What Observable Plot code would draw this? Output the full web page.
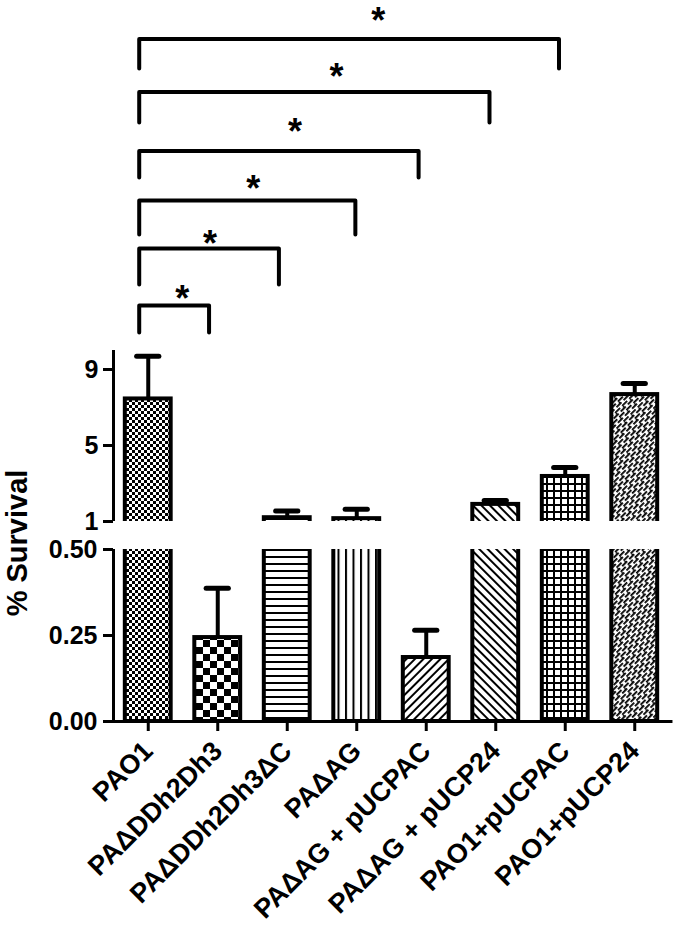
<!DOCTYPE html>
<html><head><meta charset="utf-8">
<script src="https://cdn.jsdelivr.net/npm/d3@7"></script>
<script src="https://cdn.jsdelivr.net/npm/@observablehq/plot@0.6"></script>
<style>
body{margin:0;background:#fff;font-family:"Liberation Sans",Arial,sans-serif;}
#chart{position:relative;width:675px;height:938px;overflow:hidden;}
#top,#bottom{display:block;line-height:0;}
#ylabel{position:absolute;left:-83px;top:526px;width:200px;text-align:center;font-size:29px;font-weight:bold;line-height:34px;transform:rotate(-90deg);white-space:nowrap;}
</style></head>
<body>
<div id="chart"><div id="top"></div><div id="bottom"></div><div id="ylabel">% Survival</div></div>
<script>
// ---- data ----
const categories = ["PAO1","PAΔDDh2Dh3","PAΔDDh2Dh3ΔC","PAΔAG","PAΔAG + pUCPAC","PAΔAG + pUCP24","PAO1+pUCPAC","PAO1+pUCP24"];
const means   = [7.45, 0.244, 1.2, 1.15, 0.186, 1.9, 3.37, 7.68];
const errTops = [9.7, 0.387, 1.55, 1.65, 0.265, 2.1, 3.84, 8.26];
const patternIds = ["pCheckFine","pCheckCoarse","pHLines","pVLines","pDiagUp","pDiagDown","pGrid","pHatch"];
const lowerTicks = [0, 0.25, 0.5];
const upperTicks = [1, 5, 9];
// significance brackets (index units on x, survival units on y of upper segment)
const bracketStart = -0.13;
const bracketEnds    = [0.875, 1.88, 2.98, 3.89, 4.91, 5.91];
const bracketTops    = [12.37, 15.37, 17.9, 20.5, 23.6, 26.4];
const bracketBottoms = [10.95, 13.47, 16.1, 19.1, 22.0, 24.84];
const starX = [0.49, 0.89, 1.51, 2.11, 2.71, 3.31];
const starY = [13.16, 16.05, 18.95, 21.95, 24.84, 27.8];

const bars = categories.map((c, i) => ({i, c, mean: means[i], err: errTops[i], pat: `url(#${patternIds[i]})`}));
const bracketPts = bracketEnds.flatMap((e, k) => [
  {k, x: bracketStart, y: bracketBottoms[k]},
  {k, x: bracketStart, y: bracketTops[k]},
  {k, x: e, y: bracketTops[k]},
  {k, x: e, y: bracketBottoms[k]}
]);
const stars = starX.map((x, k) => ({x, y: starY[k]}));

const FONT = "'Liberation Sans', Arial, sans-serif";
const HALF = 0.33, CAP = 0.16;

function defs() {
  return `
  <pattern id="pCheckFine" patternUnits="userSpaceOnUse" width="6" height="6">
    <rect width="6" height="6" fill="#fff"/><rect width="3" height="3" fill="#000"/><rect x="3" y="3" width="3" height="3" fill="#000"/>
  </pattern>
  <pattern id="pCheckCoarse" patternUnits="userSpaceOnUse" width="14" height="14">
    <rect width="14" height="14" fill="#fff"/><rect width="7" height="7" fill="#000"/><rect x="7" y="7" width="7" height="7" fill="#000"/>
  </pattern>
  <pattern id="pHLines" patternUnits="userSpaceOnUse" width="8" height="7">
    <rect width="8" height="7" fill="#fff"/><rect y="0" width="8" height="2" fill="#000"/>
  </pattern>
  <pattern id="pVLines" patternUnits="userSpaceOnUse" width="7.5" height="8">
    <rect width="7.5" height="8" fill="#fff"/><rect x="0" width="2" height="8" fill="#000"/>
  </pattern>
  <pattern id="pDiagUp" patternUnits="userSpaceOnUse" width="6" height="6" patternTransform="rotate(45)">
    <rect width="6" height="6" fill="#fff"/><rect width="2" height="6" fill="#000"/>
  </pattern>
  <pattern id="pDiagDown" patternUnits="userSpaceOnUse" width="6" height="6" patternTransform="rotate(-45)">
    <rect width="6" height="6" fill="#fff"/><rect width="2" height="6" fill="#000"/>
  </pattern>
  <pattern id="pGrid" patternUnits="userSpaceOnUse" width="7" height="7">
    <rect width="7" height="7" fill="#fff"/><rect width="2" height="7" fill="#000"/><rect width="7" height="2" fill="#000"/>
  </pattern>
  <pattern id="pHatch" patternUnits="userSpaceOnUse" width="6" height="10" patternTransform="rotate(45)">
    <rect width="6" height="10" fill="#fff"/>
    <rect x="0" y="0" width="1.8" height="7" fill="#000"/>
    <rect x="3" y="5" width="1.8" height="5" fill="#000"/><rect x="3" y="0" width="1.8" height="2" fill="#000"/>
    <rect x="1.8" y="6" width="1.2" height="1.4" fill="#000"/>
  </pattern>`;
}
function addDefs(svg) {
  const d = document.createElementNS("http://www.w3.org/2000/svg", "defs");
  d.innerHTML = defs();
  svg.insertBefore(d, svg.firstChild);
  return svg;
}

const xOpt = {domain: [-0.5, 7.5], axis: null};
const common = {width: 675, marginLeft: 113, marginRight: 6, color: {type: "identity"},
  style: {fontFamily: FONT, background: "transparent", overflow: "visible"}};

// ---- upper segment (1 .. 10) plus brackets ----
const upper = Plot.plot({
  ...common,
  height: 521, marginTop: 0, marginBottom: 0,
  x: xOpt,
  y: {domain: [1, 1 + 521/19]},
  marks: [
    Plot.rect(bars.filter(d => d.mean >= 1), {x1: d => d.i - HALF, x2: d => d.i + HALF, y1: 0, y2: "mean", fill: "pat", stroke: "#000", strokeWidth: 4, clip: true}),
    Plot.ruleX(bars.filter(d => d.mean >= 1), {x: "i", y1: "mean", y2: "err", stroke: "#000", strokeWidth: 4}),
    Plot.ruleY(bars.filter(d => d.mean >= 1), {x1: d => d.i - CAP, x2: d => d.i + CAP, y: "err", stroke: "#000", strokeWidth: 5, strokeLinecap: "round"}),
    Plot.ruleX([-0.5], {y1: 1, y2: 10, stroke: "#000", strokeWidth: 3}),
    Plot.axisY({ticks: upperTicks, tickSize: 10, tickPadding: 5, tickFormat: d3.format("d"), fontSize: 25, fontWeight: "bold", strokeWidth: 3, label: null}),
    Plot.line(bracketPts, {x: "x", y: "y", z: "k", stroke: "#000", strokeWidth: 4, strokeLinejoin: "round"}),
    Plot.text(stars, {x: "x", y: "y", text: () => "*", fontSize: 36, fontWeight: "bold", dy: 9})
  ]
});
document.getElementById("top").append(addDefs(upper));

// ---- lower segment (0 .. 0.5) with category axis ----
const lower = Plot.plot({
  ...common,
  height: 417, marginTop: 28, marginBottom: 217,
  x: {domain: [-0.5, 7.5]},
  y: {domain: [0, 0.5]},
  marks: [
    Plot.rect(bars, {x1: d => d.i - HALF, x2: d => d.i + HALF, y1: 0, y2: "mean", fill: "pat", stroke: "#000", strokeWidth: 4, clip: true}),
    Plot.ruleX(bars.filter(d => d.mean < 1), {x: "i", y1: "mean", y2: "err", stroke: "#000", strokeWidth: 4}),
    Plot.ruleY(bars.filter(d => d.mean < 1), {x1: d => d.i - CAP, x2: d => d.i + CAP, y: "err", stroke: "#000", strokeWidth: 5, strokeLinecap: "round"}),
    Plot.ruleX([-0.5], {y1: 0, y2: 0.5, stroke: "#000", strokeWidth: 3}),
    Plot.ruleY([0], {x1: -0.5, x2: 7.55, stroke: "#000", strokeWidth: 3}),
    Plot.axisY({ticks: lowerTicks, tickSize: 10, tickPadding: 6, tickFormat: d3.format(".2f"), fontSize: 25, fontWeight: "bold", strokeWidth: 3, label: null}),
    Plot.axisX({ticks: d3.range(categories.length), tickFormat: i => categories[i], tickRotate: -45, tickSize: 10, tickPadding: 15, fontSize: 27, fontWeight: "bold", strokeWidth: 3, label: null})
  ]
});
document.getElementById("bottom").append(addDefs(lower));
</script>
</body></html>
